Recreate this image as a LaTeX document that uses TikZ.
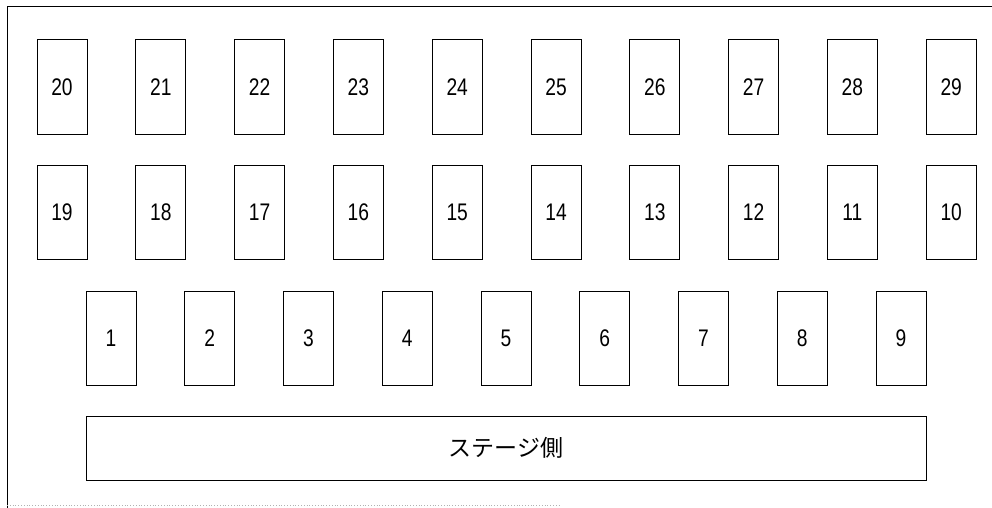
\documentclass[tikz,border=0pt]{standalone}
\usepackage{fontspec}
\setmainfont{Liberation Sans}
\newfontfamily\numfont[FakeStretch=0.8]{Liberation Sans}
\newfontfamily\jpfont{Noto Sans CJK JP}

\begin{document}
\begin{tikzpicture}
[every node/.style={inner sep=0pt}, seat/.style={rectangle, minimum width=50pt, minimum height=94pt, line width=1pt, draw=black, font=\numfont\fontsize{24}{24}\selectfont}]
\useasboundingbox (0pt, 0pt) rectangle (992pt, -508pt);
\draw [line width=1pt, color=black] (992pt, -7pt) -- (7pt, -7pt) -- (7pt, -508pt);
\draw [line width=0.8pt, color=gray!60, dotted] (7pt, -505pt) -- (560pt, -505pt);
\node (20) [seat] at (62.0pt, -87.0pt) {20};
\node (21) [seat] at (160.8pt, -87.0pt) {21};
\node (22) [seat] at (259.6pt, -87.0pt) {22};
\node (23) [seat] at (358.4pt, -87.0pt) {23};
\node (24) [seat] at (457.2pt, -87.0pt) {24};
\node (25) [seat] at (556.0pt, -87.0pt) {25};
\node (26) [seat] at (654.8pt, -87.0pt) {26};
\node (27) [seat] at (753.6pt, -87.0pt) {27};
\node (28) [seat] at (852.4pt, -87.0pt) {28};
\node (29) [seat] at (951.2pt, -87.0pt) {29};
\node (19) [seat] at (62.0pt, -212.0pt) {19};
\node (18) [seat] at (160.8pt, -212.0pt) {18};
\node (17) [seat] at (259.6pt, -212.0pt) {17};
\node (16) [seat] at (358.4pt, -212.0pt) {16};
\node (15) [seat] at (457.2pt, -212.0pt) {15};
\node (14) [seat] at (556.0pt, -212.0pt) {14};
\node (13) [seat] at (654.8pt, -212.0pt) {13};
\node (12) [seat] at (753.6pt, -212.0pt) {12};
\node (11) [seat] at (852.4pt, -212.0pt) {11};
\node (10) [seat] at (951.2pt, -212.0pt) {10};
\node (1) [seat] at (111.0pt, -338.5pt) {1};
\node (2) [seat] at (209.75pt, -338.5pt) {2};
\node (3) [seat] at (308.5pt, -338.5pt) {3};
\node (4) [seat] at (407.25pt, -338.5pt) {4};
\node (5) [seat] at (506.0pt, -338.5pt) {5};
\node (6) [seat] at (604.75pt, -338.5pt) {6};
\node (7) [seat] at (703.5pt, -338.5pt) {7};
\node (8) [seat] at (802.25pt, -338.5pt) {8};
\node (9) [seat] at (901.0pt, -338.5pt) {9};
\node (stage) [rectangle, minimum width=840pt, minimum height=64pt, line width=1pt, draw=black, font=\jpfont\fontsize{23}{23}\selectfont] at (506.0pt, -448.0pt) {ステージ側};

\end{tikzpicture}
\end{document}
